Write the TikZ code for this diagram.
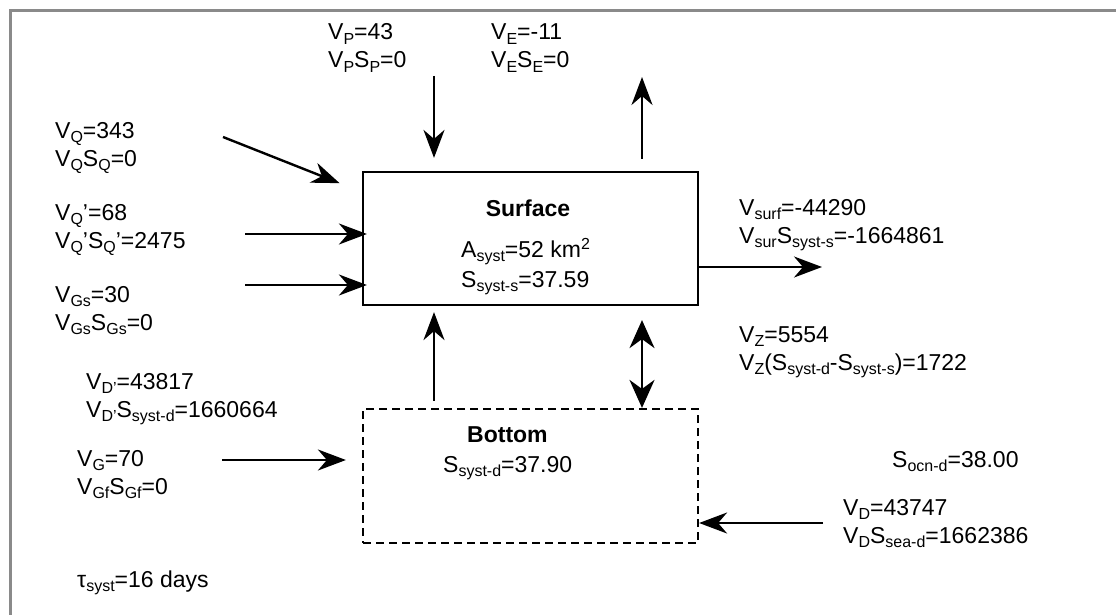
\documentclass[tikz,border=0pt]{standalone}
\usepackage{fontspec}
\setmainfont{Liberation Sans}
\usetikzlibrary{arrows.meta}
\newcommand\sbs[1]{\raisebox{-4.5pt}{\fontsize{16}{16}\selectfont #1}}
\newcommand\sps[1]{\raisebox{8pt}{\fontsize{16}{16}\selectfont #1}}
\newcommand\bigfs{\fontsize{23}{28}\selectfont}
\begin{document}
\begin{tikzpicture}[x=1pt,y=-1pt,
  lbl/.style={anchor=base west, inner sep=0pt, align=left, font=\bigfs},
  boxnode/.style={draw, line width=2.2pt, minimum width=335pt, minimum height=133pt, inner sep=0pt},
  arr/.style={line width=2.4pt, -{Stealth[length=28pt,width=21pt,inset=9pt]}},
  darr/.style={line width=2.4pt, {Stealth[length=28pt,width=25pt,inset=9pt]}-{Stealth[length=28pt,width=25pt,inset=9pt]}},
  frame/.style={draw=black!46, line width=3.5pt}]
\useasboundingbox (0,0) rectangle (1116,615);
\fill[white] (0,0) rectangle (1116,615);
\draw[frame] (10.5,620) -- (10.5,10.5) -- (1120,10.5);

% boxes
\node[boxnode] (surf) at (530.5,238.5) {};
\node[boxnode, dashed, dash pattern=on 8pt off 5pt, minimum height=134pt] (bot) at (530.5,476) {};

% box texts
\node[lbl, anchor=base, font=\bigfs\bfseries] (lsurf) at (528,216) {Surface};
\node[lbl] (lA) at (461,257) {A\sbs{syst}=52 km\sps{2}};
\node[lbl] (lSs) at (461,287) {S\sbs{syst-s}=37.59};
\node[lbl, font=\bigfs\bfseries] (lbot) at (467,442) {Bottom};
\node[lbl] (lSd) at (443,472) {S\sbs{syst-d}=37.90};

% labels (node baseline = last line)
\node[lbl] (tQ) at (55,166) {V\sbs{Q}=343\\V\sbs{Q}S\sbs{Q}=0};
\node[lbl] (tQp) at (55,248) {V\sbs{Q}’=68\\V\sbs{Q}’S\sbs{Q}’=2475};
\node[lbl] (tGs) at (55,330) {V\sbs{Gs}=30\\V\sbs{Gs}S\sbs{Gs}=0};
\node[lbl] (tDp) at (86,417) {V\sbs{D’}=43817\\V\sbs{D’}S\sbs{syst-d}=1660664};
\node[lbl] (tG) at (77,494) {V\sbs{G}=70\\V\sbs{Gf}S\sbs{Gf}=0};
\node[lbl] (tau) at (77,587) {τ\sbs{syst}=16 days};
\node[lbl] (tP) at (328,68) {V\sbs{P}=43\\V\sbs{P}S\sbs{P}=0};
\node[lbl] (tE) at (491,68) {V\sbs{E}=-11\\V\sbs{E}S\sbs{E}=0};
\node[lbl] (tsurf) at (739,243) {V\sbs{surf}=-44290\\V\sbs{sur}S\sbs{syst-s}=-1664861};
\node[lbl] (tZ) at (739,370) {V\sbs{Z}=5554\\V\sbs{Z}(S\sbs{syst-d}-S\sbs{syst-s})=1722};
\node[lbl] (tocn) at (892,467) {S\sbs{ocn-d}=38.00};
\node[lbl] (tD) at (843,543) {V\sbs{D}=43747\\V\sbs{D}S\sbs{sea-d}=1662386};

% free ends
\coordinate (qS) at (223,137);
\coordinate (qpS) at (245,234);
\coordinate (gsS) at (245,285);
\coordinate (pS) at (434,76);
\coordinate (eE) at (642,77);
\coordinate (sfE) at (822,267);
\coordinate (gS) at (222,460);
\coordinate (dS) at (823,523);

% connectors
\draw[arr, shorten >=24pt] (qS) -- (surf.north west |- 0,192);
\draw[arr, shorten >=-5pt] (qpS) -- (qpS -| surf.west);
\draw[arr, shorten >=-5pt] (gsS) -- (gsS -| surf.west);
\draw[arr, shorten >=13pt] (pS) -- (pS |- surf.north);
\draw[arr, shorten <=12pt] (eE |- surf.north) -- (eE);
\draw[arr] (sfE -| surf.east) -- (sfE);
\draw[arr, shorten <=7pt, shorten >=6pt] (pS |- bot.north) -- (pS |- surf.south);
\draw[darr, shorten <=14pt] (eE |- surf.south) -- (eE |- bot.north);
\draw[arr, shorten >=16pt] (gS) -- (gS -| bot.west);
\draw[arr] (dS) -- (dS -| bot.east);
\end{tikzpicture}
\end{document}
